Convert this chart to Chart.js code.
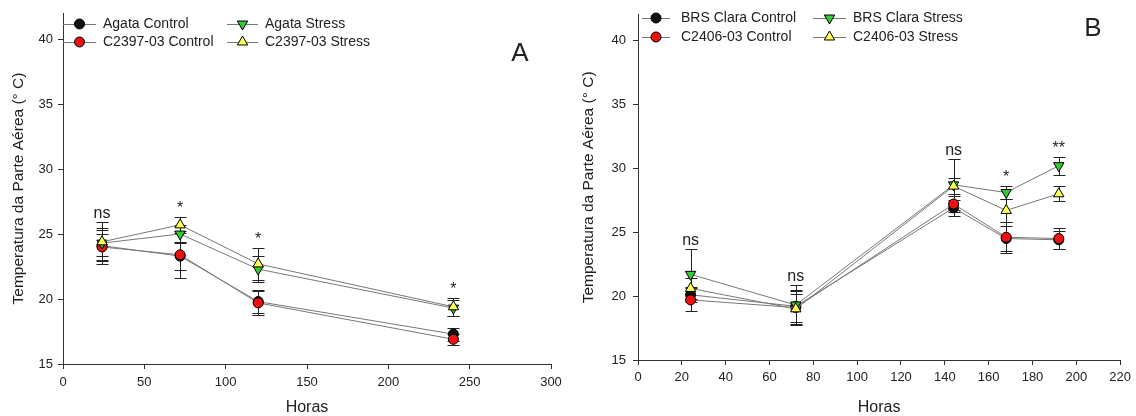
<!DOCTYPE html>
<html>
<head>
<meta charset="utf-8">
<script src="https://cdn.jsdelivr.net/npm/chart.js@4.4.0/dist/chart.umd.min.js"></script>
<style>
  html, body { margin: 0; padding: 0; background: #fff; }
  .panel { position: absolute; top: 0; width: 568px; height: 416px; }
</style>
</head>
<body>
<div class="panel" style="left:0"><canvas id="chartA" width="568" height="416"></canvas></div>
<div class="panel" style="left:568px"><canvas id="chartB" width="568" height="416"></canvas></div>
<script>
// ---- panel A data ----
const hoursA = [24, 72, 120, 240];
const namesA = ["Agata Control", "C2397-03 Control", "Agata Stress", "C2397-03 Stress"];
const agataControl = [24.1, 23.3, 19.8, 17.3];
const agataControlErr = [1.2, 1.1, 0.9, 0.5];
const c2397Control = [24.0, 23.4, 19.7, 16.9];
const c2397ControlErr = [1.0, 1.8, 0.9, 0.4];
const agataStress = [24.3, 25.0, 22.3, 19.3];
const agataStressErr = [1.6, 0.7, 1.0, 0.6];
const c2397Stress = [24.4, 25.7, 22.7, 19.4];
const c2397StressErr = [1.1, 0.6, 1.2, 0.7];
const sigA = ["ns", "*", "*", "*"];

// ---- panel B data ----
const hoursB = [24, 72, 144, 168, 192];
const namesB = ["BRS Clara Control", "C2406-03 Control", "BRS Clara Stress", "C2406-03 Stress"];
const brsControl = [20.1, 19.2, 26.9, 24.5, 24.4];
const brsControlErr = [0.6, 1.2, 0.6, 1.0, 0.7];
const c2406Control = [19.7, 19.1, 27.2, 24.6, 24.5];
const c2406ControlErr = [0.9, 1.4, 0.6, 1.2, 0.8];
const brsStress = [21.7, 19.3, 28.7, 28.1, 30.2];
const brsStressErr = [2.0, 1.6, 2.0, 0.5, 0.7];
const c2406Stress = [20.6, 19.0, 28.6, 26.7, 28.0];
const c2406StressErr = [0.8, 1.2, 0.6, 0.9, 0.6];
const sigB = ["ns", "ns", "ns", "*", "**"];

const yTitle = "Temperatura da Parte Aérea (° C)";
const xTitle = "Horas";

// marker look per series: control black, control red, stress green (down), stress yellow (up)
const markers = [
  { fill: "#111111", shape: "circle", r: 5, rot: 0 },
  { fill: "#ee1111", shape: "circle", r: 5, rot: 0 },
  { fill: "#33cc33", shape: "triangle", r: 6, rot: 180 },
  { fill: "#ffff55", shape: "triangle", r: 6, rot: 0 }
];

Chart.defaults.font.family = "'Liberation Sans', Arial, sans-serif";
Chart.defaults.color = "#222";

function drawMarker(ctx, m, x, y) {
  ctx.save();
  ctx.fillStyle = m.fill;
  ctx.strokeStyle = "#000";
  ctx.lineWidth = 1;
  ctx.beginPath();
  if (m.shape === "circle") {
    ctx.arc(x, y, m.r, 0, Math.PI * 2);
  } else {
    let a = m.rot * Math.PI / 180;
    for (let k = 0; k < 3; k++) {
      const px = x + Math.sin(a) * m.r, py = y - Math.cos(a) * m.r;
      if (k === 0) ctx.moveTo(px, py); else ctx.lineTo(px, py);
      a += Math.PI * 2 / 3;
    }
    ctx.closePath();
  }
  ctx.fill();
  ctx.stroke();
  ctx.restore();
}

function buildChart(id, hours, names, means, errs, sig, cfg) {
  const errorBars = {
    id: "errorBars",
    beforeDatasetsDraw(chart) {
      const { ctx, scales: { x, y } } = chart;
      ctx.save();
      ctx.strokeStyle = "#222";
      ctx.lineWidth = 1;
      means.forEach((vals, i) => {
        vals.forEach((v, j) => {
          const px = Math.round(x.getPixelForValue(hours[j])) + 0.5;
          const top = Math.round(y.getPixelForValue(v + errs[i][j])) + 0.5;
          const bot = Math.round(y.getPixelForValue(v - errs[i][j])) + 0.5;
          ctx.beginPath();
          ctx.moveTo(px, top); ctx.lineTo(px, bot);
          ctx.moveTo(px - 6, top); ctx.lineTo(px + 6, top);
          ctx.moveTo(px - 6, bot); ctx.lineTo(px + 6, bot);
          ctx.stroke();
        });
      });
      ctx.restore();
    }
  };

  const extras = {
    id: "extras",
    afterDraw(chart) {
      const { ctx, scales: { x, y } } = chart;
      ctx.save();
      // significance labels above the highest error bar
      ctx.fillStyle = "#222";
      ctx.textAlign = "center";
      ctx.textBaseline = "alphabetic";
      ctx.font = "16px 'Liberation Sans', Arial, sans-serif";
      hours.forEach((h, j) => {
        let top = Infinity;
        means.forEach((vals, i) => {
          top = Math.min(top, y.getPixelForValue(vals[j] + errs[i][j]));
        });
        ctx.fillText(sig[j], x.getPixelForValue(h), top - 4);
      });
      // legend
      ctx.font = "14px 'Liberation Sans', Arial, sans-serif";
      ctx.textAlign = "left";
      ctx.textBaseline = "middle";
      names.forEach((name, i) => {
        const col = cfg.legend.cols[Math.floor(i / 2)];
        const ly = cfg.legend.rows[i % 2];
        ctx.strokeStyle = "#777";
        ctx.lineWidth = 1;
        ctx.beginPath();
        ctx.moveTo(col.x0, ly + 0.5); ctx.lineTo(col.x1, ly + 0.5);
        ctx.stroke();
        drawMarker(ctx, markers[i], (col.x0 + col.x1) / 2, ly);
        ctx.fillStyle = "#222";
        ctx.fillText(name, col.text, ly);
      });
      // panel letter
      ctx.font = "26px 'Liberation Sans', Arial, sans-serif";
      ctx.textAlign = "center";
      ctx.fillText(cfg.letter.text, cfg.letter.x, cfg.letter.y);
      ctx.restore();
    }
  };

  const datasets = means.map((vals, i) => ({
    label: names[i],
    data: vals.map((v, j) => ({ x: hours[j], y: v })),
    borderColor: "#777",
    borderWidth: 1,
    pointStyle: markers[i].shape,
    rotation: markers[i].rot,
    pointRadius: markers[i].r,
    pointBackgroundColor: markers[i].fill,
    pointBorderColor: "#000",
    pointBorderWidth: 1,
    order: 4 - i
  }));

  return new Chart(document.getElementById(id).getContext("2d"), {
    type: "line",
    data: { datasets: datasets },
    options: {
      responsive: false,
      animation: false,
      devicePixelRatio: 1,
      layout: { padding: cfg.padding },
      plugins: { legend: { display: false }, tooltip: { enabled: false } },
      scales: {
        x: {
          type: "linear",
          min: 0,
          max: cfg.xMax,
          ticks: { stepSize: cfg.xStep, font: { size: 13 }, padding: cfg.xTickPad, color: "#222" },
          grid: { drawOnChartArea: false, drawTicks: true, tickLength: 5, color: "#333" },
          border: { color: "#333", width: 1 },
          title: { display: true, text: xTitle, font: { size: 16, lineHeight: 1 }, padding: 0, color: "#222" },
          afterFit(scale) { scale.height = cfg.xHeight; }
        },
        y: {
          min: 15,
          max: 42,
          ticks: { stepSize: 5, font: { size: 13 }, padding: cfg.yTickPad, color: "#222" },
          afterBuildTicks(scale) { scale.ticks = scale.ticks.filter(t => t.value % 5 === 0); },
          grid: { drawOnChartArea: false, drawTicks: true, tickLength: 5, color: "#333" },
          border: { color: "#333", width: 1 },
          title: { display: true, text: yTitle, font: { size: 15.5 }, padding: { top: cfg.yTitlePad, bottom: 0 }, color: "#222" },
          afterFit(scale) { scale.width = cfg.yWidth; }
        }
      }
    },
    plugins: [errorBars, extras]
  });
}

buildChart("chartA", hoursA, namesA,
  [agataControl, c2397Control, agataStress, c2397Stress],
  [agataControlErr, c2397ControlErr, agataStressErr, c2397StressErr],
  sigA, {
    xMax: 300, xStep: 50, xHeight: 52, yWidth: 63, xTickPad: 6, yTickPad: 5, yTitlePad: 9,
    padding: { left: 0, top: 13, right: 17, bottom: 0 },
    legend: { rows: [24, 42], cols: [{ x0: 63, x1: 96, text: 103 }, { x0: 227, x1: 258, text: 265 }] },
    letter: { text: "A", x: 520, y: 54 }
  });

buildChart("chartB", hoursB, namesB,
  [brsControl, c2406Control, brsStress, c2406Stress],
  [brsControlErr, c2406ControlErr, brsStressErr, c2406StressErr],
  sigB, {
    xMax: 220, xStep: 20, xHeight: 56, yWidth: 70, xTickPad: 5, yTickPad: 7, yTitlePad: 11,
    padding: { left: 0, top: 7, right: 12, bottom: 0 },
    legend: { rows: [18, 37], cols: [{ x0: 74, x1: 102, text: 113 }, { x0: 245, x1: 278, text: 285 }] },
    letter: { text: "B", x: 525, y: 29 }
  });
</script>
</body>
</html>
